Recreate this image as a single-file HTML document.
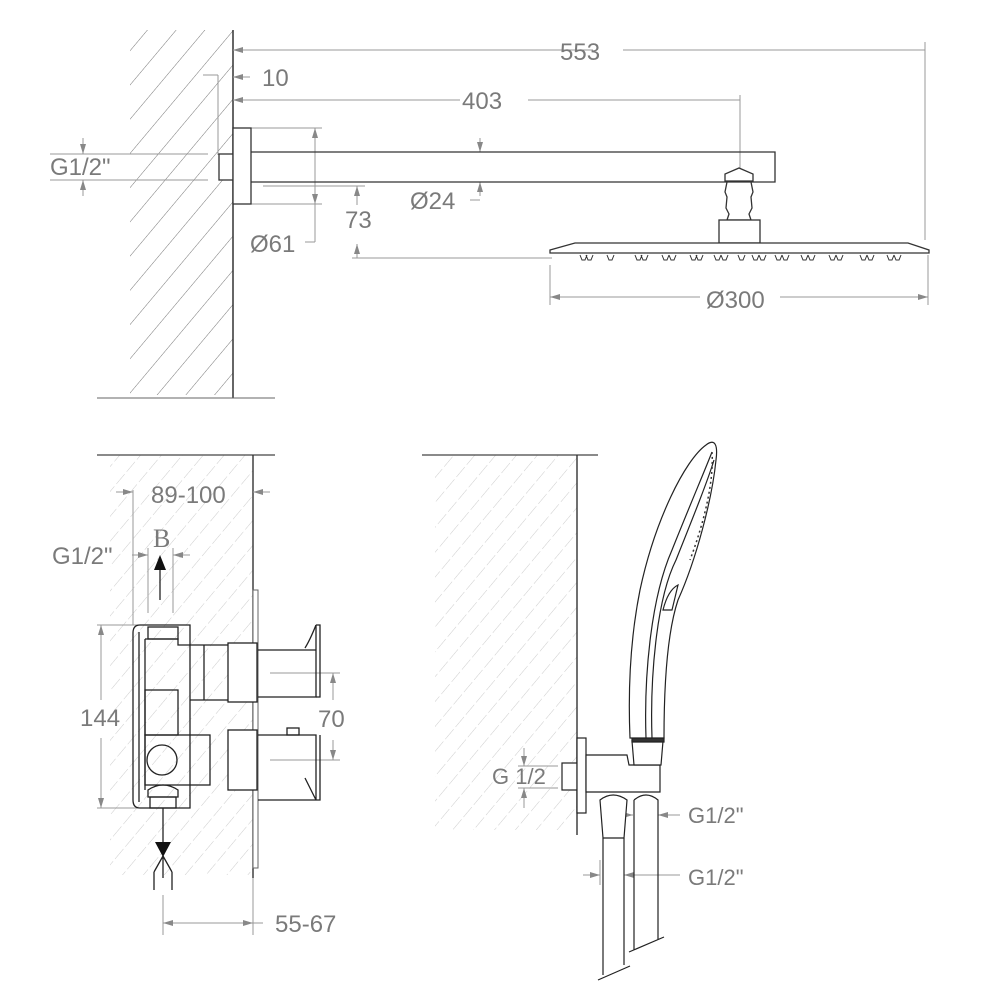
<!DOCTYPE html>
<html><head><meta charset="utf-8"><style>
html,body{margin:0;padding:0;background:#fff;}
svg{display:block;}
text{font-family:"Liberation Sans",sans-serif;fill:#7a7a7a;}
</style></head><body>
<svg width="1000" height="1000" viewBox="0 0 1000 1000" xmlns="http://www.w3.org/2000/svg">
<defs>
<pattern id="h1" patternUnits="userSpaceOnUse" width="22" height="22" patternTransform="rotate(40)">
<line x1="0" y1="0" x2="0" y2="22" stroke="#777" stroke-width="1"/></pattern>
<pattern id="h2" patternUnits="userSpaceOnUse" width="16" height="16" patternTransform="rotate(40)">
<line x1="0" y1="0" x2="0" y2="16" stroke="#ccc" stroke-width="1" stroke-dasharray="8 3"/></pattern>
<marker id="a" viewBox="0 0 10 6" refX="10" refY="3" markerWidth="10" markerHeight="6" orient="auto-start-reverse" markerUnits="userSpaceOnUse"><path d="M0,0 L10,3 L0,6 z" fill="#888"/></marker>
</defs>

<!-- TOP PANEL -->
<rect x="130" y="30" width="103" height="365" fill="url(#h1)"/>
<line x1="233" y1="30" x2="233" y2="398" stroke="#333" stroke-width="1.5"/>
<line x1="97" y1="398" x2="275" y2="398" stroke="#666" stroke-width="1"/>
<g stroke="#999" stroke-width="1" fill="none">
<line x1="925" y1="50" x2="233" y2="50" marker-end="url(#a)"/>
<line x1="925" y1="42" x2="925" y2="240"/>
<line x1="203" y1="75" x2="218" y2="75"/><line x1="218" y1="75" x2="218" y2="155"/>
<line x1="250" y1="77" x2="233" y2="77" marker-end="url(#a)"/>
<line x1="740" y1="100" x2="233" y2="100" marker-end="url(#a)"/>
<line x1="740" y1="95" x2="740" y2="178"/>
<line x1="50" y1="154" x2="208" y2="154"/><line x1="50" y1="180" x2="208" y2="180"/>
<line x1="83" y1="138" x2="83" y2="154" marker-end="url(#a)"/>
<line x1="83" y1="196" x2="83" y2="180" marker-end="url(#a)"/>
<line x1="251" y1="128" x2="322" y2="128"/><line x1="251" y1="204" x2="322" y2="204"/>
<line x1="315" y1="165" x2="315" y2="128" marker-end="url(#a)"/>
<line x1="315" y1="165" x2="315" y2="204" marker-end="url(#a)"/>
<line x1="315" y1="204" x2="315" y2="242"/><line x1="305" y1="242" x2="315" y2="242"/>
<line x1="263" y1="186" x2="365" y2="186"/>
<line x1="357" y1="205" x2="357" y2="186" marker-end="url(#a)"/>
<line x1="357" y1="244" x2="357" y2="258" marker-start="url(#a)"/>
<line x1="352" y1="258" x2="552" y2="258"/>
<line x1="480" y1="138" x2="480" y2="152" marker-end="url(#a)"/>
<line x1="480" y1="196" x2="480" y2="182" marker-end="url(#a)"/>
<line x1="470" y1="200" x2="480" y2="200"/>
<line x1="550" y1="265" x2="550" y2="305"/>
<line x1="928" y1="255" x2="928" y2="305"/>
<line x1="700" y1="297" x2="550" y2="297" marker-end="url(#a)"/>
<line x1="780" y1="297" x2="928" y2="297" marker-end="url(#a)"/>
</g>
<rect x="593" y="40" width="30" height="20" fill="#fff"/>
<rect x="460" y="90" width="68" height="20" fill="#fff"/>
<text x="560" y="60" font-size="24">553</text>
<text x="262" y="86" font-size="24">10</text>
<text x="462" y="109" font-size="24">403</text>
<text x="50" y="175" font-size="24">G1/2"</text>
<text x="250" y="252" font-size="24">Ø61</text>
<text x="345" y="228" font-size="24">73</text>
<text x="410" y="209" font-size="24">Ø24</text>
<text x="706" y="308" font-size="24">Ø300</text>
<g stroke="#333" stroke-width="1.3" fill="#fff">
<rect x="219" y="154" width="14" height="26"/>
<rect x="233" y="128" width="18" height="76"/>
<path d="M251,152 L775,152 L775,182 L251,182" fill="none"/>
<path d="M725,181 L725,174 L739,168 L753,174 L753,181 Z"/>
<path d="M727,182 L751,182 L753,192 L751,197 L752,208 L749,214 L751,220 L727,220 L729,214 L726,208 L727,197 L725,192 Z"/>
<rect x="719" y="220" width="41" height="23"/>
<path d="M550,250 L575,243 L908,243 L929,250 L929,253 L550,253 Z"/>
</g>
<g stroke="#333" stroke-width="1" fill="none">
<path d="M580,255 l2,5 l3,0 l2,-5 M586,255 l2,5 l3,0 l2,-5 M607,255 l2,5 l3,0 l2,-5 M635,255 l2,5 l3,0 l2,-5 M641,255 l2,5 l3,0 l2,-5 M662,255 l2,5 l3,0 l2,-5 M669,255 l2,5 l3,0 l2,-5 M690,255 l2,5 l3,0 l2,-5 M696,255 l2,5 l3,0 l2,-5 M714,255 l2,5 l3,0 l2,-5 M721,255 l2,5 l3,0 l2,-5 M738,255 l2,5 l3,0 l2,-5 M752,255 l2,5 l3,0 l2,-5 M759,255 l2,5 l3,0 l2,-5 M775,255 l2,5 l3,0 l2,-5 M782,255 l2,5 l3,0 l2,-5 M801,255 l2,5 l3,0 l2,-5 M808,255 l2,5 l3,0 l2,-5 M829,255 l2,5 l3,0 l2,-5 M836,255 l2,5 l3,0 l2,-5 M860,255 l2,5 l3,0 l2,-5 M867,255 l2,5 l3,0 l2,-5 M887,255 l2,5 l3,0 l2,-5 M894,255 l2,5 l3,0 l2,-5"/>
</g>

<!-- BOTTOM LEFT -->
<rect x="110" y="455" width="143" height="420" fill="url(#h2)"/>
<line x1="97" y1="455" x2="275" y2="455" stroke="#444" stroke-width="1.3"/>
<line x1="253" y1="455" x2="253" y2="878" stroke="#333" stroke-width="1.4"/>
<rect x="253" y="590" width="5" height="278" fill="#fff" stroke="#666"/>
<g stroke="#999" stroke-width="1" fill="none">
<line x1="116" y1="492" x2="133" y2="492" marker-end="url(#a)"/>
<line x1="270" y1="492" x2="253" y2="492" marker-end="url(#a)"/>
<line x1="133" y1="490" x2="133" y2="625"/>
<line x1="132" y1="555" x2="148" y2="555" marker-end="url(#a)"/>
<line x1="190" y1="555" x2="173" y2="555" marker-end="url(#a)"/>
<line x1="148" y1="548" x2="148" y2="613"/><line x1="173" y1="548" x2="173" y2="613"/>
<line x1="97" y1="625" x2="140" y2="625"/><line x1="97" y1="808" x2="140" y2="808"/>
<line x1="101" y1="700" x2="101" y2="625" marker-end="url(#a)"/>
<line x1="101" y1="738" x2="101" y2="808" marker-end="url(#a)"/>
<line x1="270" y1="673" x2="340" y2="673"/><line x1="270" y1="760" x2="340" y2="760"/>
<line x1="333" y1="700" x2="333" y2="673" marker-end="url(#a)"/>
<line x1="333" y1="740" x2="333" y2="760" marker-end="url(#a)"/>
<line x1="163" y1="895" x2="163" y2="935"/>
<line x1="208" y1="923" x2="163" y2="923" marker-end="url(#a)"/>
<line x1="208" y1="923" x2="253" y2="923" marker-end="url(#a)"/>
<line x1="253" y1="878" x2="253" y2="935"/>
<line x1="253" y1="923" x2="263" y2="923"/>
</g>
<text x="151" y="503" font-size="24">89-100</text>
<text x="153" y="547" font-size="26" font-family="Liberation Serif" style="font-family:'Liberation Serif',serif">B</text>
<text x="52" y="564" font-size="24">G1/2"</text>
<text x="80" y="726" font-size="24">144</text>
<text x="318" y="727" font-size="24">70</text>
<text x="275" y="932" font-size="24">55-67</text>
<g stroke="#222" stroke-width="1.3" fill="none">
<path d="M140,625 L190,625 L190,808 L140,808 Q133,808 133,800 L133,633 Q133,625 140,625 Z"/>
<path d="M139,632 L139,802"/>
<rect x="148" y="627" width="30" height="12"/>
<path d="M145,639 L178,639 L178,645 L190,645"/>
<path d="M145,639 L145,790"/>
<rect x="145" y="690" width="33" height="45"/>
<rect x="145" y="735" width="65" height="50"/>
<circle cx="162" cy="760" r="15"/>
<path d="M148,790 Q163,780 178,790 L178,797 L148,797 Z"/>
<rect x="150" y="797" width="26" height="11"/>
<path d="M190,645 L228,645 M190,700 L228,700 M204,645 L204,700"/>
<rect x="228" y="643" width="29" height="59" fill="#fff"/>
<rect x="228" y="730" width="29" height="60" fill="#fff"/>
<path d="M258,650 L316,650 L316,625 L316,697 L258,697"/>
<path d="M316,625 L320,625 L320,697 L316,697 M316,625 Q310,640 305,648"/>
<path d="M258,735 L316,735 L316,800 L258,800 M316,735 L316,800 L320,800 L320,735 M305,778 Q310,788 316,800"/>
<rect x="287" y="728" width="12" height="7"/>
</g>
<g stroke="#222" stroke-width="1.3" fill="none">
<line x1="160" y1="600" x2="160" y2="568"/>
<line x1="163" y1="808" x2="163" y2="845"/>
<path d="M154,872 L163,856 L172,872 M154,872 L154,890 M172,872 L172,890 M163,856 L163,878"/>
</g>
<path d="M154,570 L160,555 L166,570 Z" fill="#111"/>
<path d="M155,842 L163,857 L171,842 Z" fill="#111"/>

<!-- BOTTOM RIGHT -->
<rect x="435" y="455" width="142" height="375" fill="url(#h2)"/>
<line x1="422" y1="455" x2="598" y2="455" stroke="#444" stroke-width="1.3"/>
<line x1="577" y1="455" x2="577" y2="835" stroke="#333" stroke-width="1.4"/>
<g stroke="#999" stroke-width="1" fill="none">
<line x1="518" y1="766" x2="558" y2="766"/><line x1="518" y1="788" x2="558" y2="788"/>
<line x1="524" y1="748" x2="524" y2="766" marker-end="url(#a)"/>
<line x1="524" y1="808" x2="524" y2="788" marker-end="url(#a)"/>
<line x1="618" y1="815" x2="633" y2="815" marker-end="url(#a)"/>
<line x1="680" y1="815" x2="658" y2="815" marker-end="url(#a)"/>
<line x1="583" y1="875" x2="600" y2="875" marker-end="url(#a)"/>
<line x1="680" y1="875" x2="624" y2="875" marker-end="url(#a)"/>
<line x1="600" y1="860" x2="600" y2="885"/><line x1="624" y1="860" x2="624" y2="885"/>
</g>
<text x="492" y="784" font-size="22">G 1/2</text>
<text x="688" y="823" font-size="22">G1/2"</text>
<text x="688" y="885" font-size="22">G1/2"</text>
<g stroke="#222" stroke-width="1.2" fill="#fff">
<rect x="562" y="763" width="15" height="27"/>
<rect x="577" y="738" width="9" height="75"/>
<path d="M586,755 L627,755 L629,765 L660,765 L660,792 L586,792 Z"/>
<path d="M632,741 L663,741 L661,765 L634,765 Z"/>
<path d="M632,738 L664,738 L664,742 L632,742 Z" fill="#333"/>
<path d="M630,738 C628,690 630,640 640,590 C655,520 685,460 706,445 C715,438 718,445 716,460 C712,500 696,560 678,600 C668,630 664,680 664,738 Z"/>
<path d="M646,738 C644,680 650,600 672,550 C690,505 705,470 712,452" fill="none"/>
<path d="M652,738 C650,680 656,600 676,560 C694,515 708,480 714,460" fill="none"/>
<path d="M663,610 Q668,590 678,585 L672,610 Z"/>
<path d="M600,800 Q613,790 627,800 L624,838 L603,838 Z"/>
<path d="M603,838 L603,975 M624,838 L624,965 M598,980 L630,966" fill="none"/>
<path d="M634,800 Q646,790 658,800 L658,940 M634,800 L634,950 M629,952 L664,937" fill="none"/>
</g>
<g stroke="#333" stroke-width="1.5" fill="none" stroke-dasharray="2 3">
<path d="M712,452 C714,480 705,520 690,560"/>
</g>
</svg>
</body></html>
